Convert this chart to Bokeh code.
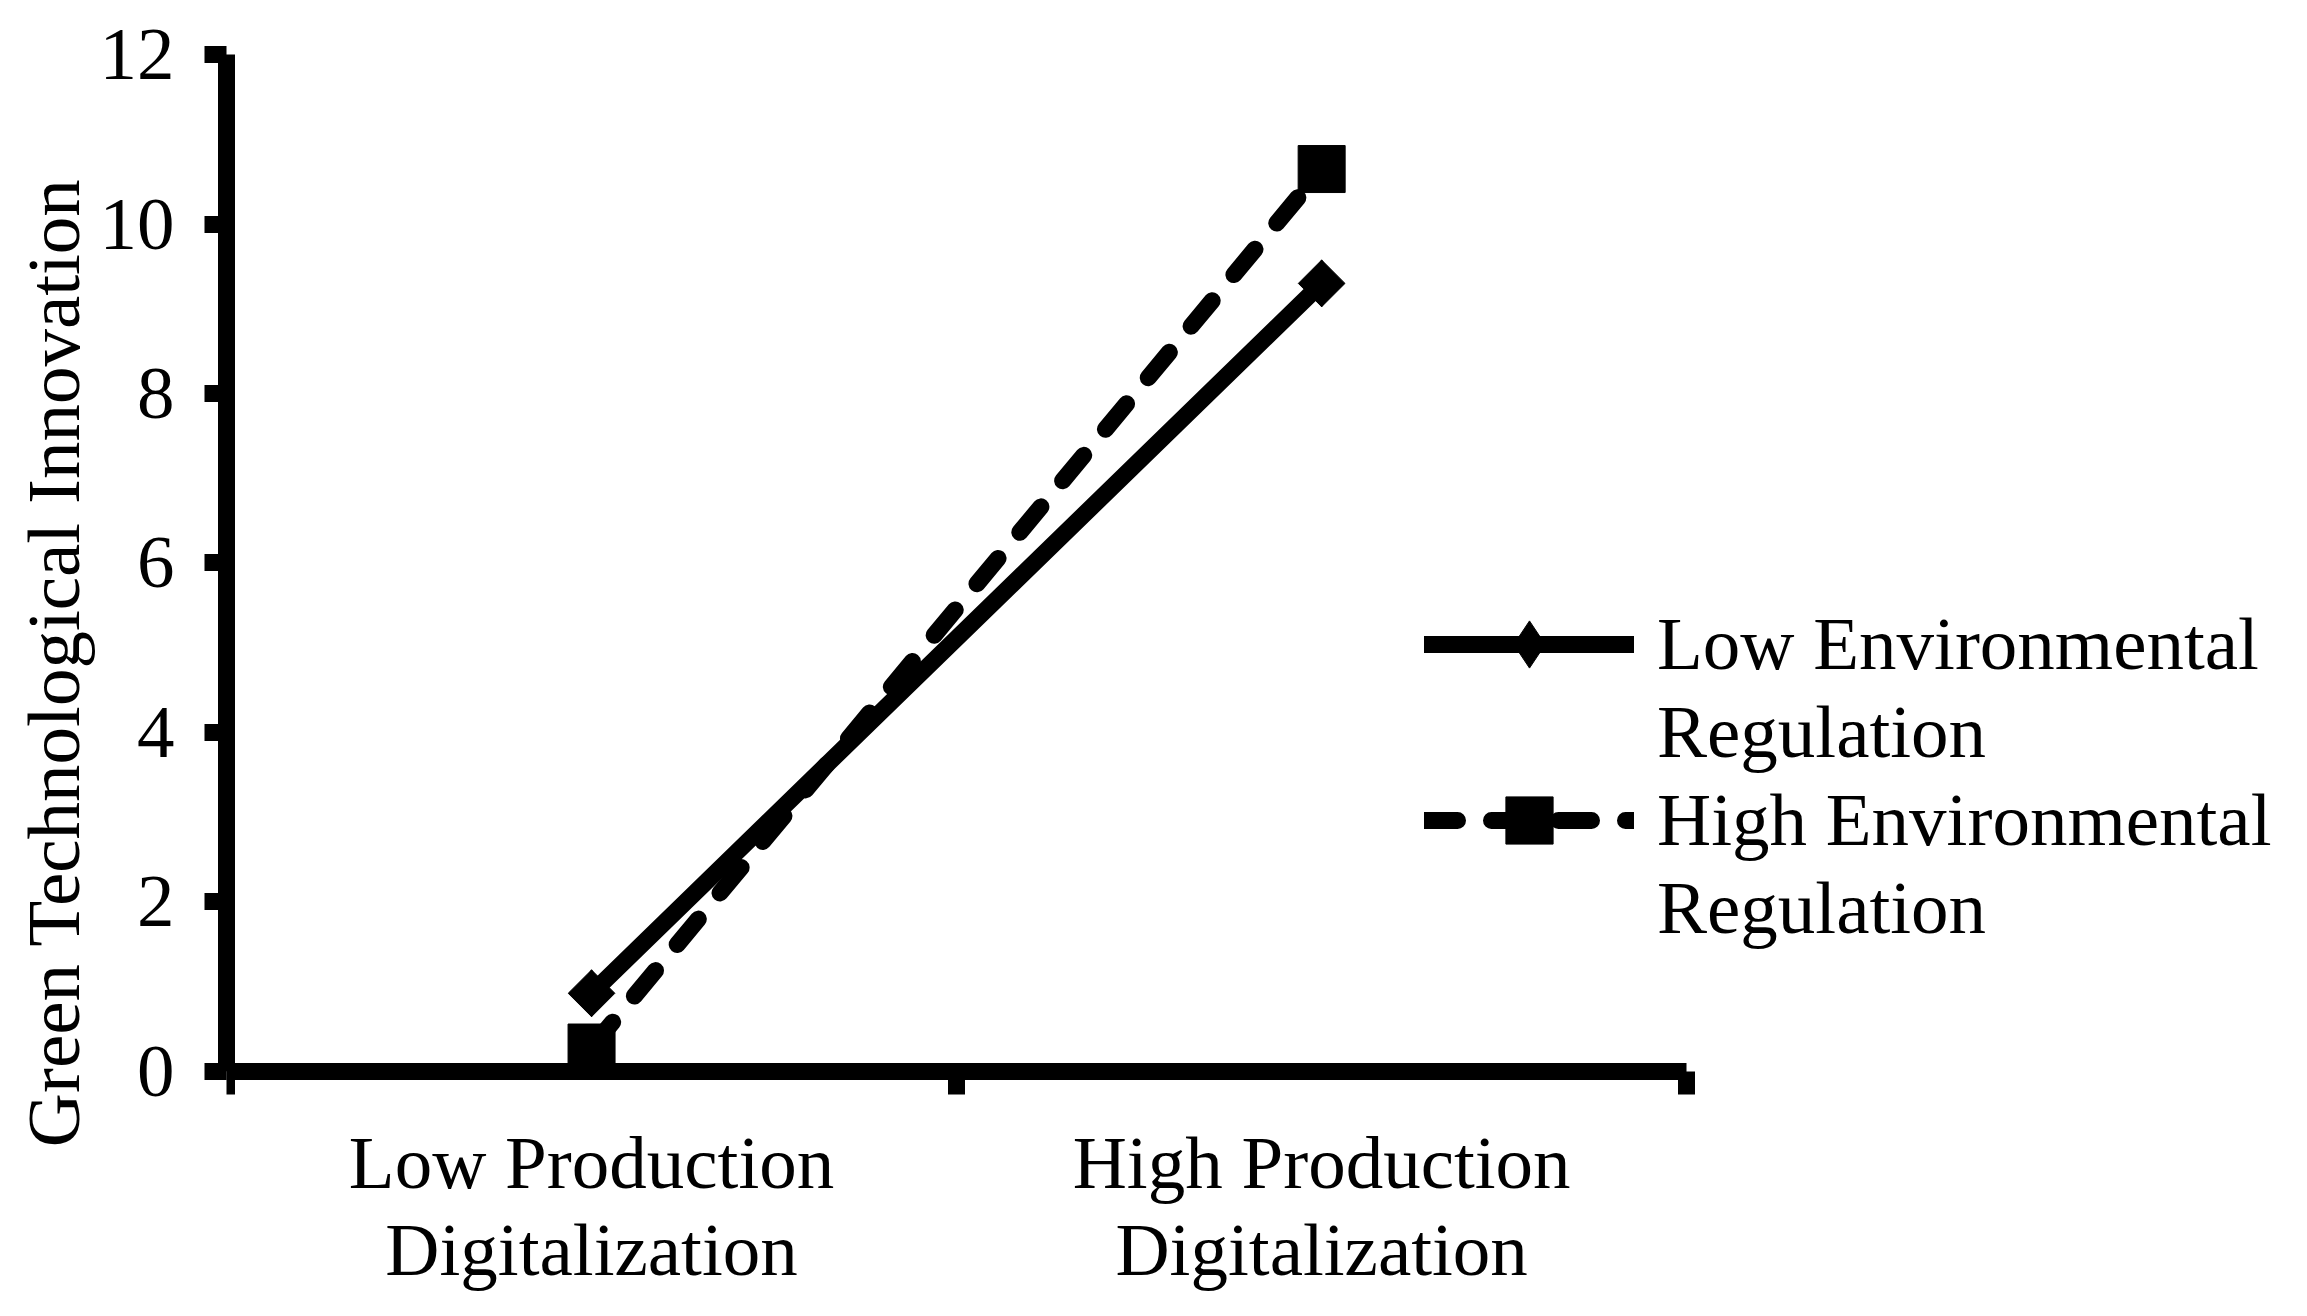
import math
from bokeh.plotting import figure
from bokeh.models import (Range1d, FixedTicker, Legend, LegendItem,
                          ColumnDataSource)
from bokeh.embed import file_html
from bokeh.resources import INLINE

# ---- data ----
categories = ["Low Production\nDigitalization", "High Production\nDigitalization"]
low_env = [0.92, 9.3]      # Low Environmental Regulation
high_env = [0.28, 10.65]   # High Environmental Regulation
y_ticks = [0, 2, 4, 6, 8, 10, 12]
series_names = ["Low Environmental", "High Environmental"]
series_suffix = "Regulation"
y_title = "Green Technological Innovation"

FONT = "Liberation Serif"
FS = "75px"

xs = [i + 0.5 for i in range(len(categories))]
n_cat = len(categories)

p = figure(width=2290, height=1305, output_backend="svg", toolbar_location=None,
           x_range=Range1d(0, 2.827), y_range=Range1d(-2.6, 12.25),
           min_border_left=226, min_border_right=0, min_border_top=33,
           min_border_bottom=14)
p.outline_line_color = None
p.grid.visible = False
p.background_fill_color = "white"
p.border_fill_color = "white"

# lines and markers
solid = p.line(xs, low_env, line_width=17, color="black", line_cap="round")
dashed = p.line(xs, high_env, line_width=17, color="black", line_cap="round",
                line_dash="33 34")
# narrow diamond (used by the legend), hidden under the square-diamond marks
leg_diamond = p.scatter(xs, low_env, marker="diamond", size=47, color="black")
p.scatter(xs, low_env, marker="square", angle=math.pi / 4, size=33, color="black")
sq = p.scatter(xs, high_env, marker="square", size=47, color="black")

blank = p.line(x="x", y="y", source=ColumnDataSource(data=dict(x=[], y=[])),
               line_alpha=0)


def style_legend(lg):
    lg.glyph_width = 210
    lg.glyph_height = 118
    lg.label_height = 118
    lg.spacing = 58
    lg.padding = 0
    lg.margin = 0
    lg.label_standoff = 23
    lg.border_line_color = None
    lg.background_fill_alpha = 0
    lg.label_text_font = FONT
    lg.label_text_font_size = FS
    lg.label_text_color = "black"


legend1 = Legend(items=[
    LegendItem(label=series_names[0], renderers=[solid, leg_diamond]),
    LegendItem(label=series_names[1], renderers=[dashed, sq]),
], location=(1198, 412))
style_legend(legend1)
p.add_layout(legend1)

legend2 = Legend(items=[
    LegendItem(label=series_suffix, renderers=[blank]),
    LegendItem(label=series_suffix, renderers=[blank]),
], location=(1198, 324))
style_legend(legend2)
p.add_layout(legend2)

# y axis
ya = p.yaxis[0]
ya.ticker = FixedTicker(ticks=y_ticks)
ya.bounds = (0, 12)
ya.axis_line_width = 17
ya.axis_line_color = "black"
ya.major_tick_line_width = 17
ya.major_tick_out = 22
ya.major_tick_in = 0
ya.minor_tick_line_color = None
ya.major_label_standoff = 30
ya.major_label_text_font = FONT
ya.major_label_text_font_size = FS
ya.major_label_text_color = "black"
ya.axis_label = y_title
ya.axis_label_standoff = 2
ya.axis_label_text_font = FONT
ya.axis_label_text_font_size = FS
ya.axis_label_text_font_style = "normal"
ya.axis_label_text_color = "black"

# x axis (drawn at y = 0)
xa = p.xaxis[0]
xa.fixed_location = 0
xa.ticker = FixedTicker(ticks=xs, minor_ticks=list(range(n_cat + 1)))
xa.major_label_overrides = {x: c for x, c in zip(xs, categories)}
xa.bounds = (0, n_cat)
xa.axis_line_width = 17
xa.axis_line_color = "black"
xa.major_tick_line_color = None
xa.minor_tick_line_color = "black"
xa.minor_tick_line_width = 17
xa.minor_tick_out = 23
xa.minor_tick_in = 0
xa.major_label_standoff = 27
xa.major_label_text_font = FONT
xa.major_label_text_font_size = FS
xa.major_label_text_line_height = 1.05
xa.major_label_text_color = "black"

open("out.html", "w").write(file_html(p, INLINE))
